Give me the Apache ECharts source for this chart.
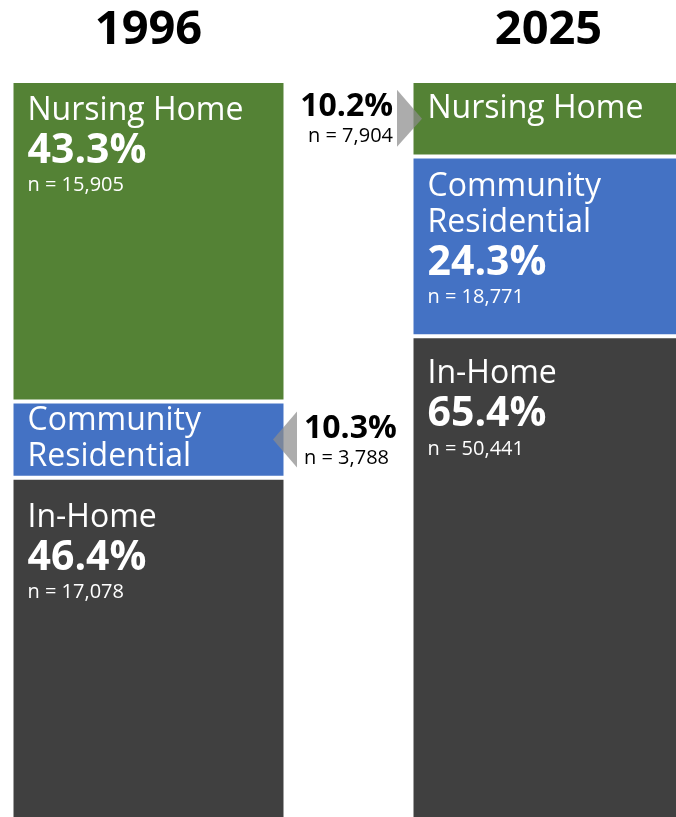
<!DOCTYPE html>
<html>
<head>
<meta charset="utf-8">
<script src="https://cdn.jsdelivr.net/npm/echarts@6/dist/echarts.min.js"></script>
<style>
  html, body { margin: 0; padding: 0; background: #fff; }
  #main { width: 676px; height: 817px; }
</style>
</head>
<body>
<div id="main"></div>
<script>
var years = ['1996', '2025'];
var names = ['Nursing Home', 'Community\nResidential', 'In-Home'];
var nursingPct = [43.3, 10.2];
var communityPct = [10.3, 24.3];
var inHomePct = [46.4, 65.4];
var nursingN = [15905, 7904];
var communityN = [3788, 18771];
var inHomeN = [17078, 50441];

var pcts = [nursingPct, communityPct, inHomePct];
var counts = [nursingN, communityN, inHomeN];
var colors = ['#548235', '#4472C4', '#404040'];
var font = '"Open Sans", sans-serif';

var chart = echarts.init(document.getElementById('main'));

function fmtN(v) {
    return 'n = ' + v.toLocaleString('en-US');
}

// segments whose share and n are written outside the bar, next to an arrow
function isOutside(c, y) {
    return (c === 0 && y === 1) || (c === 1 && y === 0);
}

var series = [];
for (var y = 0; y < 2; y++) {
    for (var c = 0; c < 3; c++) {
        (function (c, y) {
            var outside = isOutside(c, y);
            var centred = (c === 1 && y === 0);
            var dy = -4;
            if (c === 2) dy = (y === 0) ? 6 : 4;
            if (c === 0 && y === 1) dy = -6;
            if (centred) dy = -1;
            series.push({
                type: 'bar',
                name: names[c],
                stack: 'year' + y,
                xAxisIndex: y,
                yAxisIndex: y,
                barWidth: '100%',
                data: [pcts[c][y]],
                itemStyle: { color: colors[c], borderColor: '#fff', borderWidth: 2 },
                label: {
                    show: true,
                    position: centred ? 'insideLeft' : 'insideTopLeft',
                    distance: 16,
                    offset: [0, dy],
                    formatter: function () {
                        var nm = '{name|' + names[c].replace('\n', '}\n{name|') + '}';
                        if (outside) return nm;
                        return nm + '\n{pct|' + pcts[c][y].toFixed(1) + '%}\n{n|' + fmtN(counts[c][y]) + '}';
                    },
                    rich: {
                        name: { color: '#fff', fontFamily: font, fontSize: 32, lineHeight: 36 },
                        pct: { color: '#fff', fontFamily: font, fontSize: 41, fontWeight: 'bold', lineHeight: 45 },
                        n: { color: '#fff', fontFamily: font, fontSize: 20, lineHeight: 23 }
                    }
                }
            });
        })(c, y);
    }
}

var option = {
    animation: false,
    grid: [
        { left: 11.5, top: 81, width: 274, height: 740, outerBoundsMode: 'none' },
        { left: 411.5, top: 81, width: 274, height: 740, outerBoundsMode: 'none' }
    ],
    xAxis: [0, 1].map(function (i) {
        return {
            type: 'category',
            gridIndex: i,
            position: 'top',
            data: [years[i]],
            axisLine: { show: false },
            axisTick: { show: false },
            axisLabel: { color: '#000', fontFamily: font, fontWeight: 'bold', fontSize: 47, margin: 27 }
        };
    }),
    yAxis: [0, 1].map(function (i) {
        return { type: 'value', gridIndex: i, min: 0, max: 100, inverse: true, show: false };
    }),
    series: series
};
chart.setOption(option);

// arrows + outside annotations, placed from the data
var pR = chart.convertToPixel({ gridIndex: 1 }, [0, nursingPct[1] / 2]);
var pL = chart.convertToPixel({ gridIndex: 0 }, [0, nursingPct[0] + communityPct[0] / 2]);
var rightEdge = 284, leftEdgeR = 413;
chart.setOption({
    graphic: [
        {
            type: 'polygon', z: 100,
            shape: { points: [[leftEdgeR - 16, pR[1] - 29], [leftEdgeR + 9, pR[1]], [leftEdgeR - 16, pR[1] + 28]] },
            style: { fill: 'rgba(140,140,140,0.72)' }
        },
        {
            type: 'polygon', z: 100,
            shape: { points: [[rightEdge + 13, pL[1] - 28], [rightEdge - 11, pL[1]], [rightEdge + 13, pL[1] + 28]] },
            style: { fill: 'rgba(140,140,140,0.72)' }
        },
        {
            type: 'text', z: 100, x: 393, y: pR[1] - 12,
            style: { text: nursingPct[1].toFixed(1) + '%', fill: '#000', font: 'bold 32px ' + font, align: 'right', verticalAlign: 'middle' }
        },
        {
            type: 'text', z: 100, x: 393, y: pR[1] + 18,
            style: { text: fmtN(nursingN[1]), fill: '#000', font: '20px ' + font, align: 'right', verticalAlign: 'middle' }
        },
        {
            type: 'text', z: 100, x: 304, y: pL[1] - 11,
            style: { text: communityPct[0].toFixed(1) + '%', fill: '#000', font: 'bold 32px ' + font, align: 'left', verticalAlign: 'middle' }
        },
        {
            type: 'text', z: 100, x: 304, y: pL[1] + 19,
            style: { text: fmtN(communityN[0]), fill: '#000', font: '20px ' + font, align: 'left', verticalAlign: 'middle' }
        }
    ]
});

window.onresize = function () {
    chart.resize();
};
</script>
</body>
</html>
